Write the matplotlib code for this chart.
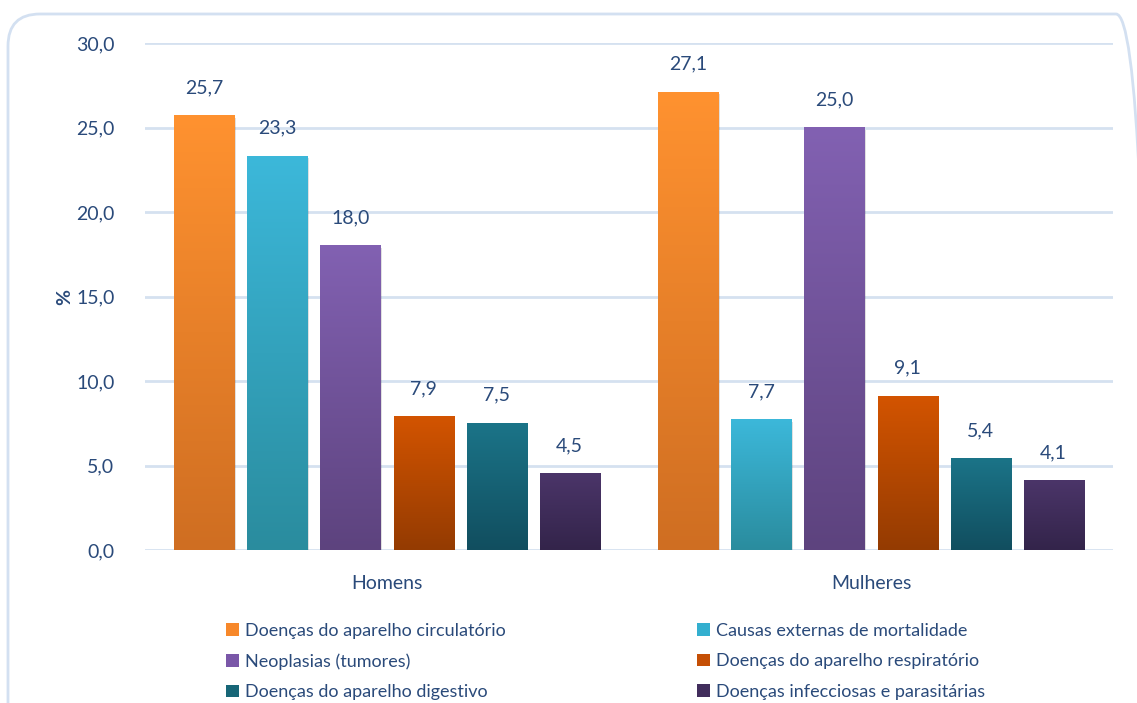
import numpy as np
import matplotlib
matplotlib.use("Agg")
import matplotlib.pyplot as plt
from matplotlib.colors import LinearSegmentedColormap
from matplotlib.patches import FancyBboxPatch, Patch

groups = ["Homens", "Mulheres"]
causes = [
    "Doenças do aparelho circulatório",
    "Causas externas de mortalidade",
    "Neoplasias (tumores)",
    "Doenças do aparelho respiratório",
    "Doenças do aparelho digestivo",
    "Doenças infecciosas e parasitárias",
]
homens = [25.7, 23.3, 18.0, 7.9, 7.5, 4.5]
mulheres = [27.1, 7.7, 25.0, 9.1, 5.4, 4.1]

# (top, bottom) gradient colours for each cause
grad = [
    ("#FF9230", "#CF6E22"),
    ("#3CB8DA", "#2A8C9E"),
    ("#8261B2", "#5D437E"),
    ("#D35400", "#943B02"),
    ("#1B7488", "#114E5F"),
    ("#4B3569", "#33244A"),
]
legend_col = ["#F7882A", "#33AFCF", "#7A57A8", "#C54F05", "#176677", "#412D5C"]

txt = "#2A4A7A"
plt.rcParams["font.family"] = ["Lato", "DejaVu Sans"]

fig = plt.figure(figsize=(11.37, 7.03), dpi=100)
fig.patch.set_facecolor("white")

# rounded frame around the chart (inches)
frame = FancyBboxPatch((0.08, -0.5), 11.40, 7.03 - 0.14 + 0.5,
                       boxstyle="round,pad=0,rounding_size=0.32",
                       transform=fig.dpi_scale_trans, facecolor="none",
                       edgecolor="#D3E0F1", lw=2)
fig.patches.append(frame)

ax = fig.add_axes([145 / 1137, 1 - 550 / 703, (1113 - 145) / 1137, (550 - 43) / 703])

width = 0.124
step = 0.151
offsets = (np.arange(len(causes)) - 2.5) * step

ax.set_yticks(np.arange(0, 31, 5))
ax.yaxis.grid(True, color="#D5E1F0", lw=2)
ax.set_axisbelow(True)
for s in ax.spines.values():
    s.set_visible(False)
ax.tick_params(length=0, labelsize=14, labelcolor=txt, pad=22)
ax.set_yticklabels([f"{v:.1f}".replace(".", ",") for v in np.arange(0, 31, 5)])
ax.set_xticks(range(len(groups)))
ax.set_xticklabels(groups)
ax.tick_params(axis="x", pad=18)
ax.set_ylabel("%", fontsize=14, fontweight="bold", color=txt, labelpad=2)

g = np.linspace(0, 1, 256).reshape(-1, 1)
for gi, vals in enumerate([homens, mulheres]):
    for ci, v in enumerate(vals):
        x0 = gi + offsets[ci] - width / 2
        cmap = LinearSegmentedColormap.from_list("b", [grad[ci][0], grad[ci][1]])
        # soft shadow
        ax.bar(x0 + width / 2 + 0.003, v, width, bottom=-0.12, color="#000000",
               alpha=0.12, zorder=2, linewidth=0)
        ax.imshow(g, extent=[x0, x0 + width, 0, v], aspect="auto", cmap=cmap,
                  origin="upper", zorder=3, interpolation="bicubic")
        ax.text(x0 + width / 2, v + 1.15, f"{v:.1f}".replace(".", ","),
                ha="center", va="bottom", fontsize=14, color=txt)

ax.set_xlim(-0.5, 1.5)
ax.set_ylim(0, 30)

handles = [Patch(facecolor=c) for c in legend_col]
order = [0, 2, 4, 1, 3, 5]
leg = fig.legend([handles[i] for i in order], [causes[i] for i in order],
                 ncol=2, loc="upper left", bbox_to_anchor=(226 / 1137, 1 - 623 / 703),
                 frameon=False, fontsize=13, handlelength=0.7, handleheight=0.7,
                 handletextpad=0.35, columnspacing=10.6, labelspacing=0.8,
                 labelcolor=txt, borderaxespad=0, borderpad=0)

fig.savefig("out.png", dpi=100)
